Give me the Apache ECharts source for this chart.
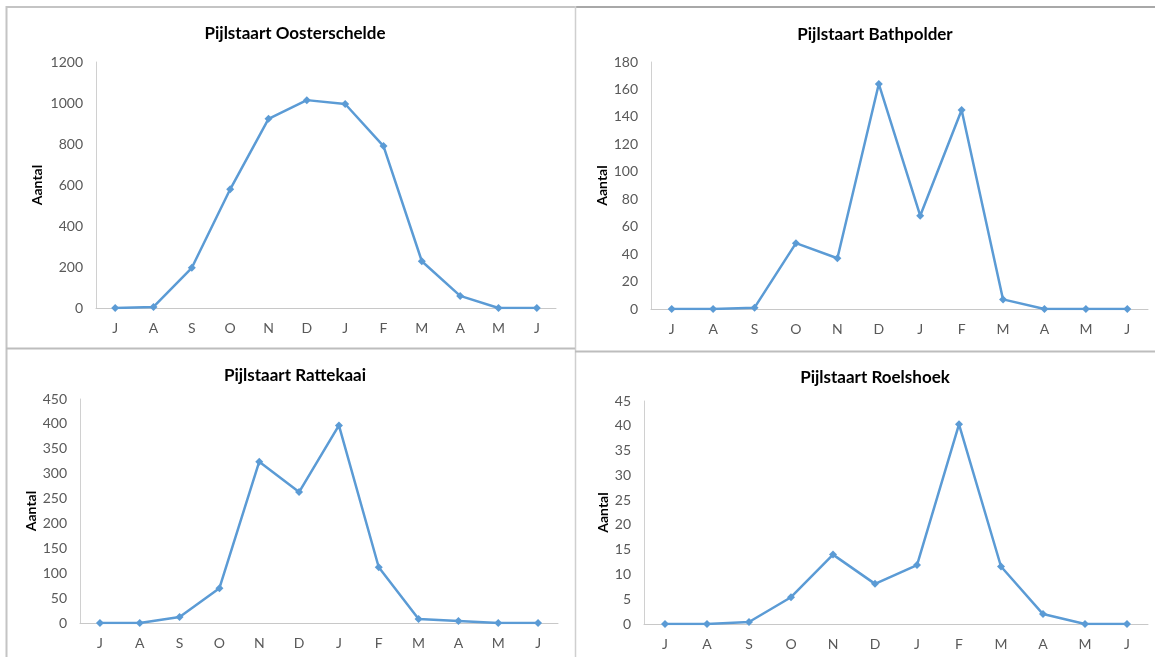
<!DOCTYPE html>
<html>
<head>
<meta charset="utf-8">
<script src="https://cdn.jsdelivr.net/npm/echarts@6/dist/echarts.min.js"></script>
<style>
  html, body { margin: 0; padding: 0; background: #ffffff; }
  #chart { width: 1155px; height: 657px; }
</style>
</head>
<body>
<div id="chart"></div>
<script>
// Months from June to June
const months = ['J', 'A', 'S', 'O', 'N', 'D', 'J', 'F', 'M', 'A', 'M', 'J'];

const titles = [
  'Pijlstaart Oosterschelde',
  'Pijlstaart Bathpolder',
  'Pijlstaart Rattekaai',
  'Pijlstaart Roelshoek'
];

const oosterschelde = [0, 5, 196, 579, 923, 1014, 995, 790, 228, 59, 0, 0];
const bathpolder    = [0, 0, 1, 48, 37, 164, 68, 145, 7, 0, 0, 0];
const rattekaai     = [0, 0, 12, 70, 324, 263, 397, 112, 8, 4, 0, 0];
const roelshoek     = [0, 0, 0.4, 5.4, 14, 8.1, 11.9, 40.3, 11.6, 2, 0, 0];

const yMax      = [1200, 180, 450, 45];
const yInterval = [200, 20, 50, 5];

const seriesData = [oosterschelde, bathpolder, rattekaai, roelshoek];

// Layout of the four panels
const grids = [
  { left: 96,  top: 62,  width: 460, height: 246 },
  { left: 651, top: 62,  width: 497, height: 247 },
  { left: 80,  top: 399, width: 478, height: 224 },
  { left: 644, top: 401, width: 504, height: 223 }
];
const titlePos = [
  { x: 290, y: 20 },
  { x: 870, y: 21 },
  { x: 290, y: 362 },
  { x: 870, y: 364 }
];
const nameGaps = [52, 41, 40, 34];

const FONT = 'Lato, "Open Sans", sans-serif';
const LINE = '#5b9bd5';

const option = {
  backgroundColor: '#ffffff',
  animation: false,
  title: titles.map((t, i) => ({
    text: t,
    left: titlePos[i].x,
    top: titlePos[i].y,
    textAlign: 'center',
    textStyle: { fontFamily: FONT, fontSize: 17, fontWeight: 'bold', color: '#000000' }
  })),
  grid: grids.map(g => Object.assign({ containLabel: false }, g)),
  xAxis: grids.map((g, i) => ({
    type: 'category',
    gridIndex: i,
    data: months,
    boundaryGap: true,
    axisLine: { lineStyle: { color: '#c8c8c8', width: 1 } },
    axisTick: { show: false },
    axisLabel: { fontFamily: FONT, fontSize: 14, color: '#595959', margin: 13, interval: 0 },
    splitLine: { show: false }
  })),
  yAxis: grids.map((g, i) => ({
    type: 'value',
    gridIndex: i,
    min: 0,
    max: yMax[i],
    interval: yInterval[i],
    name: 'Aantal',
    nameLocation: 'middle',
    nameGap: nameGaps[i],
    nameRotate: 90,
    nameTextStyle: { fontFamily: FONT, fontSize: 14, fontWeight: 'bold', color: '#000000' },
    axisLine: { show: true, lineStyle: { color: '#d0d0d0', width: 1 } },
    axisTick: { show: false },
    axisLabel: {
      fontFamily: FONT, fontSize: 14, color: '#595959', margin: 13,
      formatter: v => String(v)
    },
    splitLine: { show: false }
  })),
  series: seriesData.map((d, i) => ({
    type: 'line',
    xAxisIndex: i,
    yAxisIndex: i,
    data: d,
    symbol: 'diamond',
    symbolSize: 8,
    lineStyle: { color: LINE, width: 2.5 },
    itemStyle: { color: LINE },
    emphasis: { disabled: true }
  })),
  // Panel frames
  graphic: [
    { type: 'line', shape: { x1: 6, y1: 7, x2: 575, y2: 7 }, style: { stroke: '#c4c4c4', lineWidth: 2 } },
    { type: 'line', shape: { x1: 575, y1: 7, x2: 1155, y2: 7 }, style: { stroke: '#a8a8a8', lineWidth: 2 } },
    { type: 'line', shape: { x1: 6.5, y1: 6, x2: 6.5, y2: 657 }, style: { stroke: '#c4c4c4', lineWidth: 2 } },
    { type: 'line', shape: { x1: 575.5, y1: 6, x2: 575.5, y2: 657 }, style: { stroke: '#cfcfcf', lineWidth: 1.5 } },
    { type: 'line', shape: { x1: 6, y1: 348.5, x2: 575, y2: 348.5 }, style: { stroke: '#bdbdbd', lineWidth: 2 } },
    { type: 'line', shape: { x1: 575, y1: 351.5, x2: 1155, y2: 351.5 }, style: { stroke: '#bdbdbd', lineWidth: 2 } }
  ]
};

const chart = echarts.init(document.getElementById('chart'), null, { renderer: 'canvas' });
chart.setOption(option);
</script>
</body>
</html>
